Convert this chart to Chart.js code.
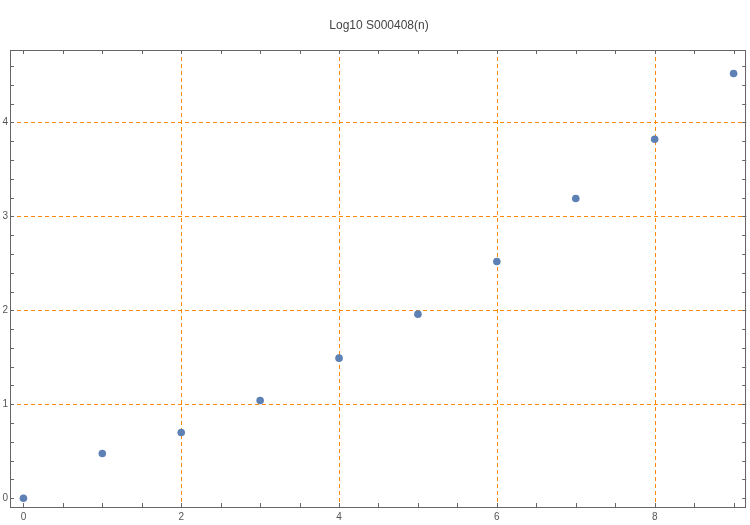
<!DOCTYPE html>
<html>
<head>
<meta charset="utf-8">
<script src="https://cdn.jsdelivr.net/npm/chart.js@4/dist/chart.umd.min.js"></script>
<style>
  body { margin: 0; background: #fff; }
  #wrap { width: 750px; height: 525px; }
</style>
</head>
<body>
<div id="wrap"><canvas id="plot" width="750" height="525"></canvas></div>
<script>
// data
const nValues = [0, 1, 2, 3, 4, 5, 6, 7, 8, 9];
const logValues = [0, 0.477, 0.699, 1.041, 1.491, 1.959, 2.52, 3.19, 3.82, 4.52];
const xTickLabels = [0, 2, 4, 6, 8];
const yTickLabels = [0, 1, 2, 3, 4];
const xGrid = [2, 4, 6, 8];
const yGrid = [1, 2, 3, 4];

const ctx = document.getElementById('plot').getContext('2d');

// frame, ticks, dashed grid and tick labels (Mathematica style)
const framePlugin = {
    id: 'frame',
    beforeDatasetsDraw(chart) {
        const c = chart.ctx;
        const a = chart.chartArea;
        const xs = chart.scales.x;
        const ys = chart.scales.y;
        c.save();

        // grid lines
        c.strokeStyle = '#ff8a00';
        c.lineWidth = 1;
        c.setLineDash([4, 3]);
        xGrid.forEach(v => {
            const px = Math.round(xs.getPixelForValue(v)) + 0.5;
            c.beginPath(); c.moveTo(px, a.top); c.lineTo(px, a.bottom); c.stroke();
        });
        yGrid.forEach(v => {
            const py = Math.round(ys.getPixelForValue(v)) + 0.5;
            c.beginPath(); c.moveTo(a.left, py); c.lineTo(a.right, py); c.stroke();
        });
        c.setLineDash([]);

        // ticks on all four sides
        c.strokeStyle = '#666';
        c.lineWidth = 1;
        for (let i = 0; i <= 18; i++) {
            const px = Math.round(xs.getPixelForValue(i * 0.5)) + 0.5;
            c.beginPath();
            c.moveTo(px, a.bottom); c.lineTo(px, a.bottom - 4);
            c.moveTo(px, a.top); c.lineTo(px, a.top + 4);
            c.stroke();
        }
        for (let i = 0; i <= 23; i++) {
            const py = Math.round(ys.getPixelForValue(i * 0.2)) + 0.5;
            c.beginPath();
            c.moveTo(a.left, py); c.lineTo(a.left + 4, py);
            c.moveTo(a.right, py); c.lineTo(a.right - 4, py);
            c.stroke();
        }

        // frame
        c.strokeStyle = '#666';
        c.strokeRect(Math.round(a.left) + 0.5, Math.round(a.top) + 0.5,
            Math.round(a.right - a.left) - 1, Math.round(a.bottom - a.top));

        // tick labels
        c.fillStyle = '#555';
        c.font = '10px "Liberation Sans", Arial, sans-serif';
        c.textAlign = 'center';
        c.textBaseline = 'top';
        xTickLabels.forEach(v => {
            c.fillText(String(v), xs.getPixelForValue(v), a.bottom + 5);
        });
        c.textAlign = 'right';
        c.textBaseline = 'middle';
        yTickLabels.forEach(v => {
            c.fillText(String(v), a.left - 2, ys.getPixelForValue(v));
        });
        c.restore();
    }
};

new Chart(ctx, {
    type: 'scatter',
    data: {
        datasets: [{
            label: 'Log10 S000408(n)',
            data: nValues.map((n, i) => ({ x: n, y: logValues[i] })),
            backgroundColor: '#5e81b5',
            borderColor: '#5e81b5',
            pointRadius: 3.8,
            pointHoverRadius: 3.8,
            borderWidth: 0
        }]
    },
    options: {
        responsive: false,
        animation: false,
        layout: { padding: { left: 10, right: 2, top: 0, bottom: 18 } },
        scales: {
            x: { type: 'linear', min: -0.17, max: 9.16, display: false },
            y: { type: 'linear', min: -0.093, max: 4.77, display: false }
        },
        plugins: {
            legend: { display: false },
            tooltip: { enabled: false },
            title: {
                display: true,
                text: 'Log10 S000408(n)',
                color: '#444',
                font: { size: 12, weight: 'normal', family: '"Liberation Sans", Arial, sans-serif' },
                padding: { top: 18, bottom: 17.6 }
            }
        }
    },
    plugins: [framePlugin]
});
</script>
</body>
</html>
